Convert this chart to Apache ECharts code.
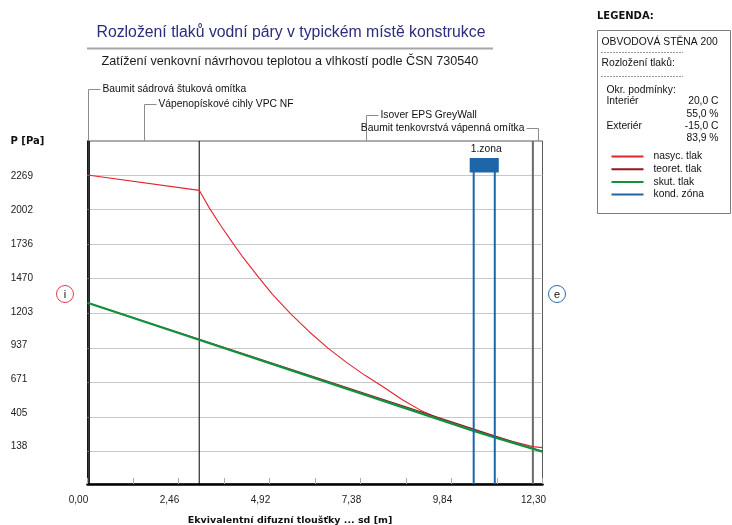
<!DOCTYPE html>
<html>
<head>
<meta charset="utf-8">
<script src="https://cdn.jsdelivr.net/npm/echarts@6/dist/echarts.min.js"></script>
<style>
html, body { margin: 0; padding: 0; background: #fff; }
#chart { width: 732px; height: 525px; }
</style>
</head>
<body>
<div id="chart"></div>
<script>
// Wall layers and their equivalent diffusion thickness boundaries sd [m]
const layerNames = [
  'Baumit sádrová štuková omítka',
  'Vápenopískové cihly VPC NF',
  'Isover EPS GreyWall',
  'Baumit tenkovrstvá vápenná omítka'
];
const layerBounds = [0, 0.05, 3.02, 12.04, 12.30];

// Saturated water vapour pressure along the wall [sd, Pa]
const psatCurve = [
  [0, 2269], [0.05, 2268], [3.02, 2151], [3.30, 2012], [3.60, 1880],
  [3.90, 1756], [4.20, 1636], [4.60, 1490], [5.00, 1350], [5.50, 1198],
  [6.00, 1060], [6.50, 936], [7.00, 826], [7.50, 726], [8.00, 636],
  [8.50, 540], [9.00, 458], [9.50, 394], [10.00, 344], [10.44, 305],
  [11.01, 256], [11.50, 216], [12.04, 177], [12.30, 169]
];
// Theoretical partial pressure (straight line interior -> exterior)
const theoreticalLine = [[0, 1285], [12.30, 138]];
// Actual partial pressure with the condensation zone
const actualLine = [[0, 1285], [10.44, 298], [11.01, 248], [12.30, 138]];
// Condensation zone limits [sd]
const condZone = [10.44, 11.01];
const zoneLabel = '1.zona';

// Axis ticks
const yTicks = [138, 405, 671, 937, 1203, 1470, 1736, 2002, 2269];
const xTicks = [0, 2.46, 4.92, 7.38, 9.84, 12.30];

const seriesNames = ['nasyc. tlak', 'teoret. tlak', 'skut. tlak', 'kond. zóna'];
const seriesColors = ['#e2242e', '#981224', '#12903e', '#1d66aa'];

// Boundary conditions listed in the legend box
const condLabels = ['Interiér', '', 'Exteriér', ''];
const condValues = ['20,0 C', '55,0 %', '-15,0 C', '83,9 %'];

const SANS = "'Liberation Sans', Arial, sans-serif";
const BOLD = "'DejaVu Sans', Verdana, sans-serif";
const SMALL = '10.3px ' + SANS;

// Layout of the layer annotations above the plot
const leaderY = [89, 104, 115, 128];
const leaderSide = [1, 1, 1, -1];
const boundaryStyle = [
  { stroke: '#000', lineWidth: 1 },
  { stroke: '#000', lineWidth: 1 },
  { stroke: '#6a6a6a', lineWidth: 2 }
];

const chart = echarts.init(document.getElementById('chart'), null, { renderer: 'canvas' });

function renderLayer(params, api) {
  const i = params.dataIndex;
  const cs = params.coordSys;
  const top = cs.y, bottom = cs.y + cs.height;
  const x0 = api.coord([api.value(0), 0])[0];
  const x1 = api.coord([api.value(1), 0])[0];
  const mid = Math.round((x0 + x1) / 2) + 0.5;
  const dir = leaderSide[i];
  const ly = leaderY[i] + 0.5;
  const children = [];
  if (i < layerNames.length - 1) {
    children.push({
      type: 'line',
      shape: { x1: x1, y1: top, x2: x1, y2: bottom },
      style: boundaryStyle[i]
    });
  }
  children.push({
    type: 'polyline',
    shape: { points: [[mid, top], [mid, ly], [mid + dir * 12, ly]] },
    style: { stroke: '#8c8c8c', lineWidth: 1, fill: null }
  });
  children.push({
    type: 'text',
    style: {
      text: layerNames[i], x: mid + dir * 14, y: ly,
      align: dir > 0 ? 'left' : 'right', verticalAlign: 'middle',
      font: SMALL, fill: '#111'
    }
  });
  return { type: 'group', children: children };
}

function renderZone(params, api) {
  const cs = params.coordSys;
  const top = cs.y, bottom = cs.y + cs.height;
  const x0 = api.coord([api.value(0), 0])[0];
  const x1 = api.coord([api.value(1), 0])[0];
  const color = seriesColors[3];
  return {
    type: 'group',
    children: [
      { type: 'line', shape: { x1: x0, y1: top + 28, x2: x0, y2: bottom }, style: { stroke: color, lineWidth: 2 } },
      { type: 'line', shape: { x1: x1, y1: top + 28, x2: x1, y2: bottom }, style: { stroke: color, lineWidth: 2 } },
      { type: 'rect', shape: { x: x0 - 4, y: top + 17, width: x1 - x0 + 8, height: 14.5 }, style: { fill: color } },
      {
        type: 'text',
        style: {
          text: zoneLabel, x: (x0 + x1) / 2 + 2, y: top + 8,
          align: 'center', verticalAlign: 'middle', font: SMALL, fill: '#111'
        }
      }
    ]
  };
}

// Tick labels drift slightly against the grid lines
const yRich = {};
yTicks.forEach(function (v, j) {
  const up = 5 - 0.84 * j;
  yRich['r' + j] = {
    fontSize: 10, fontFamily: SANS, color: '#222',
    padding: up >= 0 ? [0, 0, 2 * up, 0] : [-2 * up, 0, 0, 0]
  };
});

function legendText(text, x, y, align) {
  return { type: 'text', x: x, y: y, style: { text: text, font: SMALL, fill: '#111', align: align || 'left', verticalAlign: 'middle' } };
}

const option = {
  animation: false,
  backgroundColor: '#fff',
  grid: {
    left: 87.5, right: 189.5, top: 141, bottom: 41,
    containLabel: false, outerBoundsMode: 'none',
    show: true, borderColor: '#5a5a5a', borderWidth: 1, backgroundColor: 'transparent'
  },
  xAxis: {
    type: 'value', min: 0, max: 12.30, interval: 1.23,
    name: 'Ekvivalentní difuzní tloušťky ... sd [m]',
    nameLocation: 'middle', nameGap: 32,
    nameTextStyle: { fontFamily: BOLD, fontWeight: 'bold', fontSize: 9.5, color: '#111', padding: [0, 50, 0, 0] },
    axisLine: { onZero: false, lineStyle: { color: '#000', width: 2.5 } },
    axisTick: { show: true, inside: true, length: 6, lineStyle: { color: '#a8a8a8' } },
    axisLabel: {
      customValues: xTicks, margin: 11, fontSize: 10, fontFamily: SANS, color: '#222',
      padding: [0, 18, 0, 0],
      formatter: function (v) { return v.toFixed(2).replace('.', ','); }
    },
    splitLine: { show: false }
  },
  yAxis: {
    type: 'value', min: -111, max: 2531,
    axisLine: { show: true, onZero: false, lineStyle: { color: '#000', width: 1.5 } },
    axisTick: { show: true, inside: true, length: 3, customValues: yTicks, lineStyle: { color: '#999' } },
    axisLabel: {
      customValues: yTicks, align: 'left', margin: 76.8,
      formatter: function (v) { const j = yTicks.indexOf(v); return '{r' + j + '|' + v + '}'; },
      rich: yRich
    },
    splitLine: { show: true, lineStyle: { color: '#c8c8c8', width: 1 } }
  },
  legend: {
    orient: 'vertical', left: 611.5, top: 150.5, padding: 0,
    itemWidth: 32, itemHeight: 2, itemGap: 0.7, icon: 'rect', selectedMode: false,
    data: seriesNames.map(function (n, i) { return { name: n, itemStyle: { color: seriesColors[i] } }; }),
    textStyle: { fontSize: 10.3, fontFamily: SANS, color: '#111', lineHeight: 12, padding: [0, 0, 0, 5] }
  },
  graphic: [
    { type: 'text', x: 96.5, y: 32.5, style: { text: 'Rozložení tlaků vodní páry v typickém místě konstrukce', font: '15.8px ' + SANS, fill: '#2c2c7c', align: 'left', verticalAlign: 'middle' } },
    { type: 'line', shape: { x1: 87, y1: 48.5, x2: 493, y2: 48.5 }, style: { stroke: '#a6a6a6', lineWidth: 2 } },
    { type: 'text', x: 101.5, y: 62, style: { text: 'Zatížení venkovní návrhovou teplotou a vlhkostí podle ČSN 730540', font: '12.6px ' + SANS, fill: '#1a1a1a', align: 'left', verticalAlign: 'middle' } },
    { type: 'text', x: 10.5, y: 141.5, style: { text: 'P [Pa]', font: 'bold 10px ' + BOLD, fill: '#111', align: 'left', verticalAlign: 'middle' } },
    { type: 'circle', shape: { cx: 65, cy: 294, r: 8.5 }, style: { stroke: '#e0404e', fill: null, lineWidth: 1 } },
    { type: 'text', x: 65, y: 294.5, style: { text: 'i', font: '11px ' + SANS, fill: '#111', align: 'center', verticalAlign: 'middle' } },
    { type: 'circle', shape: { cx: 557, cy: 294, r: 8.5 }, style: { stroke: '#2a6cb0', fill: null, lineWidth: 1 } },
    { type: 'text', x: 557, y: 294.5, style: { text: 'e', font: '11px ' + SANS, fill: '#111', align: 'center', verticalAlign: 'middle' } },
    { type: 'text', x: 597, y: 16.5, style: { text: 'LEGENDA:', font: 'bold 10px ' + BOLD, fill: '#111', align: 'left', verticalAlign: 'middle' } },
    { type: 'rect', shape: { x: 597.5, y: 30.5, width: 133, height: 183 }, style: { stroke: '#7c7c7c', fill: null, lineWidth: 1 } },
    legendText('OBVODOVÁ STĚNA 200', 601.5, 42),
    { type: 'line', shape: { x1: 601.5, y1: 52.5, x2: 683, y2: 52.5 }, style: { stroke: '#333', lineWidth: 1, lineDash: [1, 2] } },
    legendText('Rozložení tlaků:', 601.5, 63.5),
    { type: 'line', shape: { x1: 601.5, y1: 76.5, x2: 683, y2: 76.5 }, style: { stroke: '#333', lineWidth: 1, lineDash: [1, 2] } },
    legendText('Okr. podmínky:', 606.5, 90)
  ].concat(condValues.map(function (v, k) {
    const y = [101.5, 114, 126.5, 138][k];
    return {
      type: 'group',
      children: [legendText(condLabels[k], 606.5, y), legendText(v, 718.5, y, 'right')]
    };
  })),
  series: [
    {
      type: 'custom', name: 'vrstvy', renderItem: renderLayer, silent: true, z: 1, clip: false,
      data: layerNames.map(function (n, i) { return [layerBounds[i], layerBounds[i + 1]]; })
    },
    {
      type: 'line', name: seriesNames[0], data: psatCurve, symbol: 'none', z: 2,
      lineStyle: { color: seriesColors[0], width: 1.1 }, itemStyle: { color: seriesColors[0] }
    },
    {
      type: 'line', name: seriesNames[1], data: theoreticalLine, symbol: 'none', z: 3,
      lineStyle: { color: seriesColors[1], width: 1.2 }, itemStyle: { color: seriesColors[1] }
    },
    {
      type: 'line', name: seriesNames[2], data: actualLine, symbol: 'none', z: 4,
      lineStyle: { color: seriesColors[2], width: 2.2 }, itemStyle: { color: seriesColors[2] }
    },
    {
      type: 'custom', name: seriesNames[3], renderItem: renderZone, silent: true, z: 5, clip: false,
      itemStyle: { color: seriesColors[3] },
      data: [condZone]
    }
  ]
};

chart.setOption(option);
</script>
</body>
</html>
